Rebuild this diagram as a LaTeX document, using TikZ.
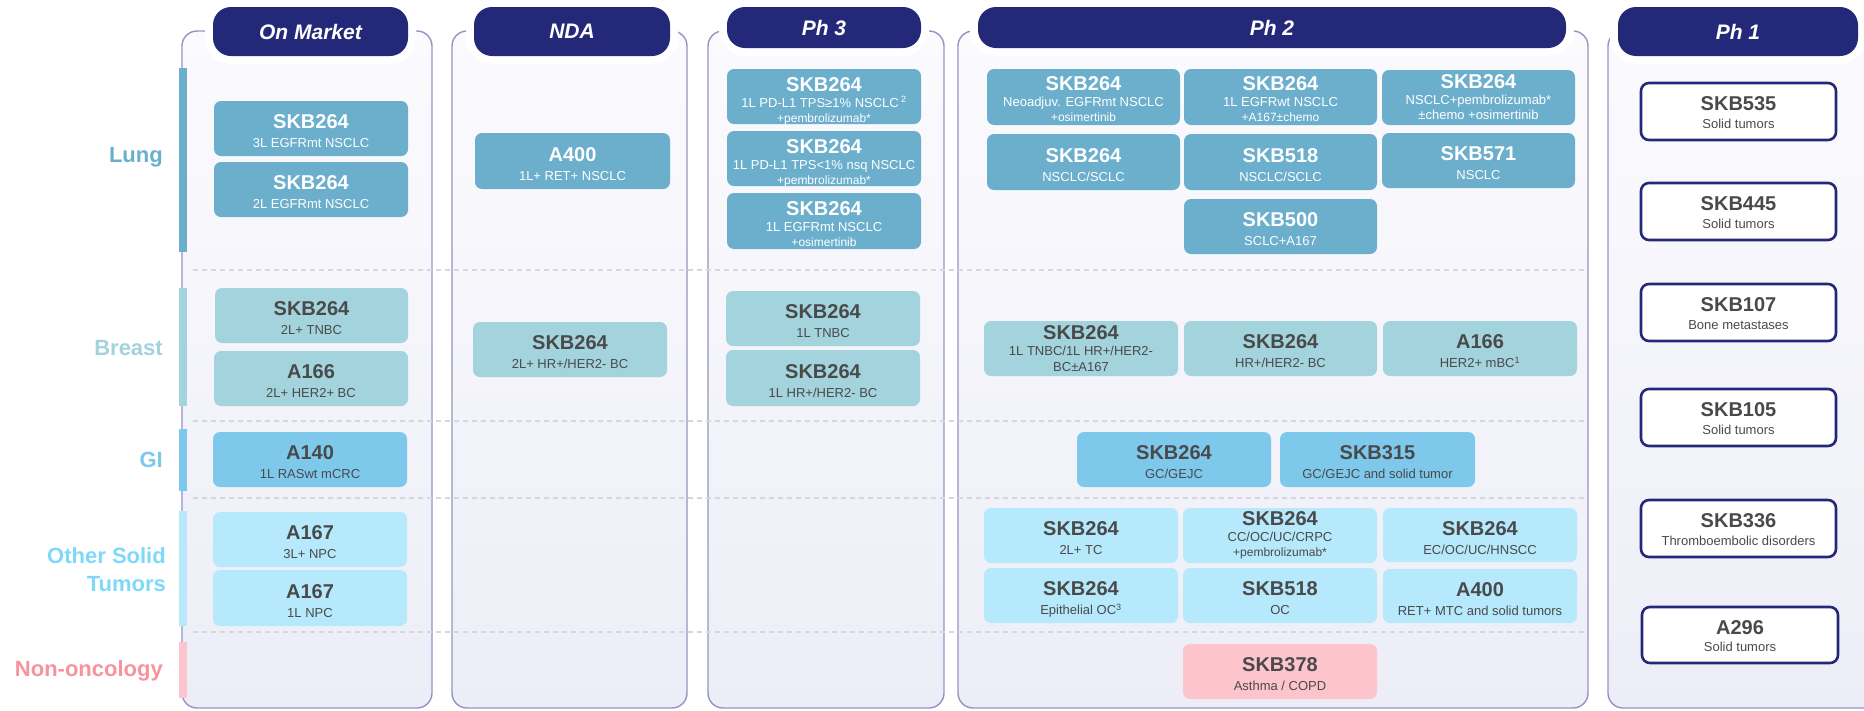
\documentclass[tikz,border=0pt]{standalone}
\usepackage{fontspec}
\setmainfont{Liberation Sans}
\definecolor{navy}{HTML}{232978}
\definecolor{panelc}{HTML}{9494C4}
\definecolor{paneltop}{HTML}{FBFBFE}
\definecolor{panelbot}{HTML}{EDEDF7}
\definecolor{lungc}{HTML}{6BAFCD}
\definecolor{breastc}{HTML}{A3D3DD}
\definecolor{gic}{HTML}{7EC8EC}
\definecolor{otherc}{HTML}{B5E9FB}
\definecolor{nonc}{HTML}{FDC5CB}
\definecolor{txtc}{HTML}{4A4A4A}
\definecolor{sepc}{HTML}{D6D6DE}
\definecolor{otherlab}{HTML}{7DD9F8}
\definecolor{nonlab}{HTML}{F7939D}
\newcommand{\ttl}[1]{{\fontsize{20}{20}\selectfont\bfseries #1}\\[3pt]}
\newcommand{\ttlc}[1]{{\fontsize{20}{20}\selectfont\bfseries #1}\\}
\newcommand{\ttlb}[1]{{\fontsize{20}{20}\selectfont\bfseries #1}\\[1.5pt]}
\newcommand{\sm}{\fontsize{12}{15}\selectfont}
\newcommand{\bx}[8]{%
  \node[#1box, minimum width={(#5-#3)*1pt}, minimum height={(#6-#4)*1pt}] (#2) at ({(#3+#5)/2},{(#4+#6)/2}) {};
  \node[#1txt, anchor=north] (#2t) at ({(#3+#5)/2},{(#4+#6)/2-#7}) {#8};}
\tikzset{
 boxbase/.style={rounded corners=7pt, inner sep=0pt, outer sep=0pt},
 txtbase/.style={inner sep=0pt, align=center, font=\fontsize{13}{16}\selectfont},
 lungbox/.style={boxbase, fill=lungc}, lungtxt/.style={txtbase, text=white},
 breastbox/.style={boxbase, fill=breastc}, breasttxt/.style={txtbase, text=txtc},
 gibox/.style={boxbase, fill=gic}, gitxt/.style={txtbase, text=txtc},
 otherbox/.style={boxbase, fill=otherc}, othertxt/.style={txtbase, text=txtc},
 nonbox/.style={boxbase, fill=nonc}, nontxt/.style={txtbase, text=txtc},
 ph1box/.style={boxbase, fill=white, draw=navy, line width=2.6pt, rounded corners=8pt},
 ph1txt/.style={txtbase, text=txtc},
 hdr/.style={fill=navy, rounded corners=18pt, text=white, inner sep=0pt,
   font=\fontsize{21}{21}\selectfont\bfseries\itshape,
   preaction={draw=white, line width=16pt}},
 panel/.style={draw=panelc, line width=1.4pt, rounded corners=15pt, top color=paneltop, bottom color=panelbot},
 sep/.style={draw=sepc, line width=1.3pt, dash pattern=on 5pt off 4pt},
 rowlab/.style={inner sep=0pt, align=right, font=\fontsize{22}{28}\selectfont\bfseries},
}
\begin{document}
\begin{tikzpicture}[x=1pt, y=-1pt]
\useasboundingbox (0,0) rectangle (1864,710);
% panels
\path[panel] (182,31) rectangle (432,708);
\path[panel] (452,31) rectangle (687,708);
\path[panel] (708,31) rectangle (944,708);
\path[panel] (958,31) rectangle (1588,708);
\path[panel] (1608,31) rectangle (1890,708);
% headers
\node[hdr, minimum width=195pt, minimum height=49pt] (hOM) at (310.5,31.5) {On Market};
\node[hdr, minimum width=196pt, minimum height=49pt] (hNDA) at (572,31.5) {NDA};
\node[hdr, minimum width=194pt, minimum height=41pt] (hP3) at (824,27.5) {Ph 3};
\node[hdr, minimum width=588pt, minimum height=41pt] (hP2) at (1272,27.5) {Ph 2};
\node[hdr, minimum width=240pt, minimum height=49pt] (hP1) at (1738,31.5) {Ph 1};
% separators
\draw[sep] (193,270) -- (1586,270);
\draw[sep] (193,421) -- (1586,421);
\draw[sep] (193,498) -- (1586,498);
\draw[sep] (193,632) -- (1586,632);
% bars
\fill[lungc] (178.5,68) rectangle (187,252);
\fill[breastc] (178.5,288) rectangle (187,406);
\fill[gic] (178.5,429) rectangle (187,491);
\fill[otherc] (178.5,511) rectangle (187,626);
\fill[nonc] (178.5,642) rectangle (187,698);
% row labels
\node[rowlab, anchor=base east, text=lungc] (lLung) at (163,162) {Lung};
\node[rowlab, anchor=base east, text=breastc] (lBreast) at (163,355) {Breast};
\node[rowlab, anchor=base east, text=gic] (lGI) at (163,467) {GI};
\node[rowlab, anchor=north east, text=otherlab] (lOther) at (166,547) {Other Solid\\Tumors};
\node[rowlab, anchor=base east, text=nonlab] (lNon) at (163,676) {Non-oncology};
% On Market
\bx{lung}{om1}{214}{101}{408}{156}{14}{\ttl{SKB264}3L EGFRmt NSCLC}
\bx{lung}{om2}{214}{162}{408}{217}{14}{\ttl{SKB264}2L EGFRmt NSCLC}
\bx{breast}{om3}{215}{288}{408}{343}{14}{\ttl{SKB264}2L+ TNBC}
\bx{breast}{om4}{214}{351}{408}{406}{14}{\ttl{A166}2L+ HER2+ BC}
\bx{gi}{om5}{213}{432}{407}{487}{14}{\ttl{A140}1L RASwt mCRC}
\bx{other}{om6}{213}{512}{407}{567}{14}{\ttl{A167}3L+ NPC}
\bx{other}{om7}{213}{570}{407}{626}{14}{\ttl{A167}1L NPC}
% NDA
\bx{lung}{nda1}{475}{133}{670}{189}{14}{\ttl{A400}1L+ RET+ NSCLC}
\bx{breast}{nda2}{473}{322}{667}{377}{14}{\ttl{SKB264}2L+ HR+/HER2- BC}
% Ph 3
\bx{lung}{p3a}{727}{69}{921}{124}{19.5}{\ttlc{SKB264}1L PD-L1 TPS≥1\% NSCLC\,\textsuperscript{2}\\[-1pt]{\sm +pembrolizumab*}}
\bx{lung}{p3b}{727}{131}{921}{186}{19.5}{\ttlc{SKB264}1L PD-L1 TPS<1\% nsq NSCLC\\[-1pt]{\sm +pembrolizumab*}}
\bx{lung}{p3c}{727}{193}{921}{249}{19.5}{\ttlc{SKB264}1L EGFRmt NSCLC\\[-1pt]{\sm +osimertinib}}
\bx{breast}{p3d}{726}{291}{920}{346}{14}{\ttl{SKB264}1L TNBC}
\bx{breast}{p3e}{726}{350}{920}{406}{14}{\ttl{SKB264}1L HR+/HER2- BC}
% Ph 2
\bx{lung}{p2a}{987}{69}{1180}{125}{20.5}{\ttlc{SKB264}Neoadjuv. EGFRmt NSCLC\\[-1pt]{\sm +osimertinib}}
\bx{lung}{p2b}{1184}{69}{1377}{125}{20.5}{\ttlc{SKB264}1L EGFRwt NSCLC\\[-1pt]{\sm +A167±chemo}}
\bx{lung}{p2c}{1382}{70}{1575}{125}{23.5}{\ttlc{SKB264}NSCLC+pembrolizumab*\\[-1pt]±chemo +osimertinib}
\bx{lung}{p2d}{987}{134}{1180}{190}{14}{\ttl{SKB264}NSCLC/SCLC}
\bx{lung}{p2e}{1184}{134}{1377}{190}{14}{\ttl{SKB518}NSCLC/SCLC}
\bx{lung}{p2f}{1382}{133}{1575}{188}{14}{\ttl{SKB571}NSCLC}
\bx{lung}{p2g}{1184}{199}{1377}{254}{14}{\ttl{SKB500}SCLC+A167}
\bx{breast}{p2h}{984}{321}{1178}{376}{23.5}{\ttlc{SKB264}1L TNBC/1L HR+/HER2-\\BC±A167}
\bx{breast}{p2i}{1184}{321}{1377}{376}{14}{\ttl{SKB264}HR+/HER2- BC}
\bx{breast}{p2j}{1383}{321}{1577}{376}{14}{\ttl{A166}HER2+ mBC\textsuperscript{1}}
\bx{gi}{p2k}{1077}{432}{1271}{487}{14}{\ttl{SKB264}GC/GEJC}
\bx{gi}{p2l}{1280}{432}{1475}{487}{14}{\ttl{SKB315}GC/GEJC and solid tumor}
\bx{other}{p2m}{984}{508}{1178}{563}{14}{\ttl{SKB264}2L+ TC}
\bx{other}{p2n}{1183}{508}{1377}{563}{24.5}{\ttlc{SKB264}CC/OC/UC/CRPC\\[-1pt]{\sm +pembrolizumab*}}
\bx{other}{p2o}{1383}{508}{1577}{562}{14}{\ttl{SKB264}EC/OC/UC/HNSCC}
\bx{other}{p2p}{984}{568}{1178}{623}{14}{\ttl{SKB264}Epithelial OC\textsuperscript{3}}
\bx{other}{p2q}{1183}{568}{1377}{623}{14}{\ttl{SKB518}OC}
\bx{other}{p2r}{1383}{569}{1577}{623}{14}{\ttl{A400}RET+ MTC and solid tumors}
\bx{non}{p2s}{1183}{644}{1377}{699}{14}{\ttl{SKB378}Asthma / COPD}
% Ph 1
\bx{ph1}{p1a}{1641}{83}{1836}{140}{15}{\ttlb{SKB535}Solid tumors}
\bx{ph1}{p1b}{1641}{183}{1836}{240}{15}{\ttlb{SKB445}Solid tumors}
\bx{ph1}{p1c}{1641}{284}{1836}{341}{15}{\ttlb{SKB107}Bone metastases}
\bx{ph1}{p1d}{1641}{389}{1836}{446}{15}{\ttlb{SKB105}Solid tumors}
\bx{ph1}{p1e}{1641}{500}{1836}{557}{15}{\ttlb{SKB336}Thromboembolic disorders}
\bx{ph1}{p1f}{1642}{607}{1838}{663}{15}{\ttlb{A296}Solid tumors}
\end{tikzpicture}
\end{document}
